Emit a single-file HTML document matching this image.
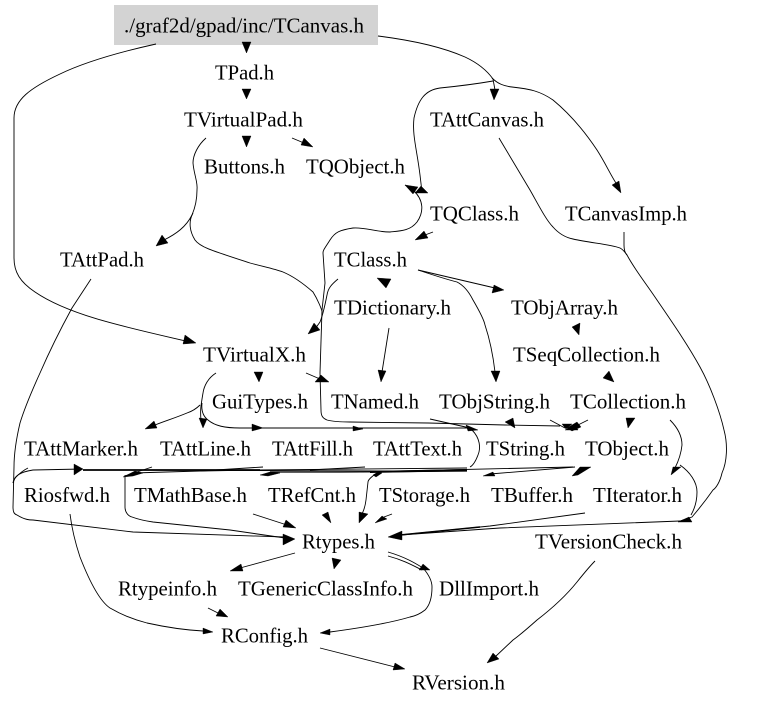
<!DOCTYPE html>
<html><head><meta charset="utf-8"><style>
html,body{margin:0;padding:0;background:#fff}
svg{display:block}
text{font-family:"Liberation Serif",serif;font-size:21px;fill:#000}
path{fill:none;stroke:#000;stroke-width:.9}
polygon{fill:#000;stroke:#000;stroke-width:.4}
</style></head><body>
<svg width="779" height="707" viewBox="0 0 779 707" xmlns="http://www.w3.org/2000/svg">
<rect x="114" y="5" width="264" height="40" fill="#d3d3d3"/>
<g transform="translate(0,.6)">
<text x="124" y="32" textLength="240" lengthAdjust="spacingAndGlyphs">./graf2d/gpad/inc/TCanvas.h</text>
<text x="215" y="79" textLength="59" lengthAdjust="spacingAndGlyphs">TPad.h</text>
<text x="184" y="126" textLength="119" lengthAdjust="spacingAndGlyphs">TVirtualPad.h</text>
<text x="204" y="173" textLength="81" lengthAdjust="spacingAndGlyphs">Buttons.h</text>
<text x="306" y="173" textLength="99" lengthAdjust="spacingAndGlyphs">TQObject.h</text>
<text x="430" y="126" textLength="114" lengthAdjust="spacingAndGlyphs">TAttCanvas.h</text>
<text x="430" y="220" textLength="89" lengthAdjust="spacingAndGlyphs">TQClass.h</text>
<text x="565" y="220" textLength="122" lengthAdjust="spacingAndGlyphs">TCanvasImp.h</text>
<text x="60" y="266" textLength="84" lengthAdjust="spacingAndGlyphs">TAttPad.h</text>
<text x="334" y="266" textLength="73" lengthAdjust="spacingAndGlyphs">TClass.h</text>
<text x="334" y="314" textLength="117" lengthAdjust="spacingAndGlyphs">TDictionary.h</text>
<text x="511" y="314" textLength="107" lengthAdjust="spacingAndGlyphs">TObjArray.h</text>
<text x="513" y="361" textLength="147" lengthAdjust="spacingAndGlyphs">TSeqCollection.h</text>
<text x="203" y="361" textLength="103" lengthAdjust="spacingAndGlyphs">TVirtualX.h</text>
<text x="212" y="408" textLength="96" lengthAdjust="spacingAndGlyphs">GuiTypes.h</text>
<text x="331" y="408" textLength="88" lengthAdjust="spacingAndGlyphs">TNamed.h</text>
<text x="439" y="408" textLength="111" lengthAdjust="spacingAndGlyphs">TObjString.h</text>
<text x="570" y="408" textLength="116" lengthAdjust="spacingAndGlyphs">TCollection.h</text>
<text x="24" y="455" textLength="114" lengthAdjust="spacingAndGlyphs">TAttMarker.h</text>
<text x="160" y="455" textLength="91" lengthAdjust="spacingAndGlyphs">TAttLine.h</text>
<text x="272" y="455" textLength="81" lengthAdjust="spacingAndGlyphs">TAttFill.h</text>
<text x="373" y="455" textLength="89" lengthAdjust="spacingAndGlyphs">TAttText.h</text>
<text x="486" y="455" textLength="79" lengthAdjust="spacingAndGlyphs">TString.h</text>
<text x="585" y="455" textLength="84" lengthAdjust="spacingAndGlyphs">TObject.h</text>
<text x="24" y="501.500" textLength="86" lengthAdjust="spacingAndGlyphs">Riosfwd.h</text>
<text x="134" y="501.500" textLength="113" lengthAdjust="spacingAndGlyphs">TMathBase.h</text>
<text x="268" y="501.500" textLength="88" lengthAdjust="spacingAndGlyphs">TRefCnt.h</text>
<text x="379" y="501.500" textLength="91" lengthAdjust="spacingAndGlyphs">TStorage.h</text>
<text x="491" y="501.500" textLength="82" lengthAdjust="spacingAndGlyphs">TBuffer.h</text>
<text x="593" y="501.500" textLength="89" lengthAdjust="spacingAndGlyphs">TIterator.h</text>
<text x="302" y="548" textLength="73" lengthAdjust="spacingAndGlyphs">Rtypes.h</text>
<text x="535" y="548" textLength="147" lengthAdjust="spacingAndGlyphs">TVersionCheck.h</text>
<text x="118" y="595" textLength="99" lengthAdjust="spacingAndGlyphs">Rtypeinfo.h</text>
<text x="238" y="595" textLength="175" lengthAdjust="spacingAndGlyphs">TGenericClassInfo.h</text>
<text x="439" y="595" textLength="100" lengthAdjust="spacingAndGlyphs">DllImport.h</text>
<text x="221" y="642" textLength="87" lengthAdjust="spacingAndGlyphs">RConfig.h</text>
<text x="412" y="689" textLength="93" lengthAdjust="spacingAndGlyphs">RVersion.h</text>
</g>

<!-- top edges -->
<path d="M156 44C120 52 85 62 60 74C30 88 14 100 14 118L14 258C14 272 20 282 35 292C70 316 130 328 190 342"/>
<polygon points="196,343 183,344 185,335"/>
<path d="M378 36C410 40 440 46 465 57C480 64 488 72 493 79L495 90"/>
<polygon points="494,100 490,89 499,89"/>
<path d="M492 78C498 84 504 86 512 87C530 89 540 91 553 100C570 114 585 132 597 150C606 164 612 178 618 186"/>
<polygon points="621,193 612,185 619,181"/>
<path d="M493 81C470 85 450 87 440 88C425 90 418 100 414 118C412 135 417 150 420 175L422 192"/>
<polygon points="421,186 415,193 428,193"/>
<path d="M405 185L413 190C424 200 424 212 417 222C410 231 400 231 390 232C375 232 365 227 353 228C340 230 335 232 330 240C325 248 323 250 323 253L325 283L322 310L320 373L321 410C321 415 322 418 327 420C335 422 345 422 350 422L428 423L505 425L560 426"/>
<polygon points="405,185 418,187 413,194"/>
<path d="M206 138C198 145 193 155 193 163C194 175 198 182 197 190C197 200 195 208 192 215C186 227 176 234 164 240"/>
<polygon points="156,246 162,235 168,243"/>
<path d="M193 213C188 222 190 232 195 240C200 247 210 250 250 263C265 267 275 269 283 272C295 277 305 285 313 292C318 300 322 310 322 312"/>
<path d="M292 138L304 143"/><polygon points="313,147 301,145 304,138"/>
<polygon points="246.500,53 242,42 251,42"/>
<polygon points="246.500,99 242,89 251,89"/>
<polygon points="246.500,147 242,136 251,136"/>
<!-- middle -->
<path d="M433 232L425 235"/><polygon points="415,240 424,231 428,238"/>
<path d="M338 279C332 284 328 288 327 295C325 305 323 315 320 322L315 329"/>
<polygon points="308,334 314,323 320,330"/>
<polygon points="386,288 377,278 391,279"/>
<path d="M389 328L382 372"/><polygon points="381,382 378,370 386,371"/>
<path d="M418 270L495 288"/><polygon points="504,290 492,293 494,285"/>
<path d="M418 270C430 274 445 279 457 282C465 286 470 294 473 300C480 312 484 320 485 325C490 340 493 355 495 372"/>
<polygon points="496,382 491,371 500,371"/>
<polygon points="579,335 572,327 580,323"/>
<polygon points="614,382 603,378 609,371"/>
<polygon points="628,428 626,418 635,418"/>
<path d="M216 373C208 378 204 386 203 393C201 405 200 410 201 420"/>
<polygon points="203,428 199,418 207,419"/>
<path d="M202 403C201 412 204 417 208 420C215 426 225 428 240 428L355 428L470 428"/>
<polygon points="263,428 252,424 252,431"/>
<polygon points="363,429 353,426 353,431"/>
<path d="M200 405C195 410 190 412 187 413C175 418 165 421 155 425"/>
<polygon points="145,429 154,421 157,428"/>
<polygon points="259,382 254,372 263,372"/>
<path d="M306 373L320 379"/>
<polygon points="321,375 315,382 329,382"/>
<path d="M430 419L470 428"/>
<polygon points="478,430 466,425 468,431"/>
<path d="M472 430C480 438 481 448 478 455C475 463 472 466 470 467"/>
<polygon points="505,422 513,418 515,428"/>
<path d="M550 420L565 428"/>
<path d="M588 420L572 428"/>
<polygon points="567,428 577,422 581,427 572,431"/>
<polygon points="565,430 575,425 578,430"/>
<polygon points="566,429 562,424 572,424"/>
<path d="M670 420C678 428 682 436 682 445C681 455 678 462 675 468"/>
<polygon points="671,475 673,467 681,467"/>
<path d="M680 465C690 472 697 482 697 492C697 500 695 508 691 515"/>
<!-- long right -->
<path d="M499 138L530 190C538 204 546 220 553 227C560 235 568 238 573 239C590 243 610 244 620 248C624 250 626 254 627 255C635 270 645 282 657 300C672 322 688 345 700 367C710 385 720 412 724 430C728 445 727 462 722 473C720 482 716 488 713 490C706 500 698 510 692 517L680 521"/>
<path d="M624 232L624 245C624 252 626 254 627 255"/>
<polygon points="678,522 689,517 692,522"/>
<!-- left long -->
<path d="M91 279L72 308C60 330 50 350 40 373C30 395 24 410 20 423C16 440 14 455 14 467L13 507C13 512 14 514 17 515C25 520 30 520 33 520L133 532L285 537"/>
<polygon points="295,539 283,534 283,545"/>
<!-- band -->
<path d="M28 468C24 470 19 474 16 477C14 479 14 481 13 483"/>
<path d="M13 483C14 476 20 472 33 470L83 469"/>
<path d="M83 470L260 470" style="stroke-width:1.8"/>
<path d="M100 470L400 471"/>
<path d="M133 473L200 471L260 470L467 468"/>
<path d="M270 472L340 472L467 471" style="stroke-width:1.3"/>
<path d="M370 472L467 470" style="stroke-width:2"/>
<path d="M400 471L573 467"/>
<path d="M125 476L152 467"/><path d="M200 471L263 467"/><path d="M310 470L365 467"/>
<path d="M490 474L575 467"/>
<path d="M125 475L125 507C125 512 128 516 132 517C140 520 146 521 153 522L230 530L285 538"/>
<path d="M377 473C372 476 368 480 368 482L366 500C365 508 363 512 361 516"/>
<polygon points="83,469 74,464 74,475"/>
<polygon points="123,477 135,471 143,473 133,476"/>
<polygon points="260,475 270,472 280,473 268,476"/>
<polygon points="373,475 378,472 382,473 376,477"/>
<polygon points="483,476 493,472 495,476"/>
<polygon points="572,476 580,467 591,467 578,475"/>
<!-- lower -->
<path d="M253 514L287 525"/><polygon points="296,528 283,527 286,520"/>
<polygon points="331,523 322,515 328,512"/>
<polygon points="359,523 359,512 368,514"/>
<path d="M392 514L384 517"/><polygon points="375,523 382,516 387,519"/>
<path d="M585 513L490 526L400 535"/>
<path d="M680 521L500 528L400 535"/>
<path d="M400 535L480 527" style="stroke-width:1.6"/>
<polygon points="388,537 402,531 402,540"/>
<path d="M295 553L240 568"/><polygon points="230,571 241,564 243,571"/>
<polygon points="334,569 332,558 341,560"/>
<path d="M388 552C405 557 415 563 423 568"/>
<path d="M388 556C403 560 412 565 422 570"/>
<polygon points="430,570 419,570 423,564"/>
<path d="M423 568C430 576 432 582 432 587C432 597 430 605 425 610C420 614 415 616 410 617C390 623 360 628 330 632"/>
<polygon points="320,633 330,629 330,635"/>
<path d="M70 514C72 530 76 545 80 557C87 575 98 600 110 608C122 615 135 620 147 623C165 627 185 630 203 631"/>
<polygon points="213,632 203,628 203,634"/>
<path d="M208 608L218 613"/><polygon points="228,617 216,616 220,609"/>
<path d="M320 648L395 667"/><polygon points="405,669 393,670 395,663"/>
<path d="M595 561C590 566 585 572 577 582C565 597 550 610 537 620C528 628 520 635 513 640L495 657"/>
<polygon points="487,663 493,653 499,659"/>
</svg>
</body></html>
